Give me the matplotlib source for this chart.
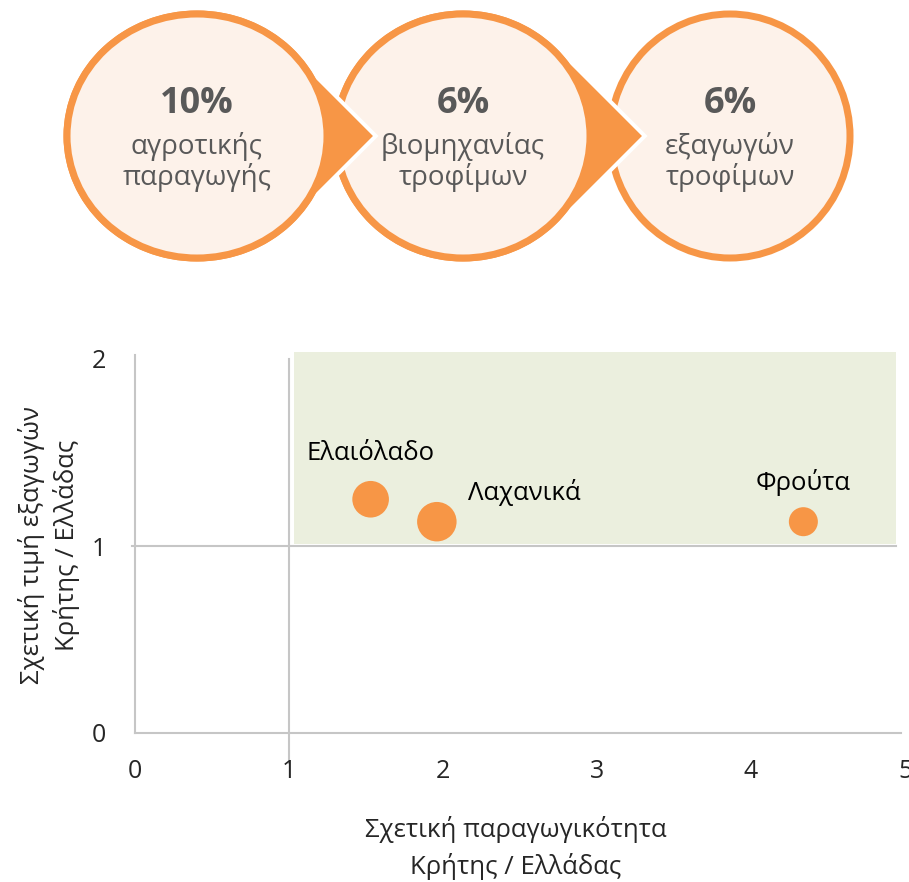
import numpy as np
import matplotlib
matplotlib.use("Agg")
import matplotlib.pyplot as plt
from matplotlib.patches import Ellipse, Polygon, Rectangle

plt.rcParams['font.family'] = ['Open Sans', 'DejaVu Sans']

# top: share of Crete in Greece
shares = ["10%", "6%", "6%"]
share_captions = ["αγροτικής\nπαραγωγής", "βιομηχανίας\nτροφίμων", "εξαγωγών\nτροφίμων"]

# bubble chart
products = ["Ελαιόλαδο", "Λαχανικά", "Φρούτα"]
productivity = [1.53, 1.96, 4.34]
export_price = [1.25, 1.13, 1.13]
bubble_size = [0.86, 1.0, 0.54]
x_ticks = [0, 1, 2, 3, 4, 5]
y_ticks = [0, 1, 2]
x_title = "Σχετική παραγωγικότητα\nΚρήτης / Ελλάδας"
y_title = "Σχετική τιμή εξαγωγών\nΚρήτης / Ελλάδας"

ORANGE = "#F79646"
PEACH = "#FDF2EA"
GREEN = "#EBEFDE"
GRID = "#C6C6C6"
TXT = "#595959"
W, H = 909, 882

fig = plt.figure(figsize=(W / 100, H / 100), dpi=100)

# pixel canvas for the circles
top = fig.add_axes([0, 0, 1, 1])
top.set_xlim(0, W)
top.set_ylim(H, 0)
top.axis("off")

# (cx, cy, rx, ry, arrow tip x)
circles = [(197, 136, 130, 122, 368),
           (463, 136, 127, 122, 637),
           (730, 136, 120, 122, None)]


def outline(cx, cy, rx, ry, tx):
    # ellipse with a 45 degree arrow pointing right
    d = tx - cx
    A = 1 / rx**2 + 1 / ry**2
    B = -2 * d / rx**2
    C = d**2 / rx**2 - 1
    t = (-B - np.sqrt(B**2 - 4 * A * C)) / (2 * A)
    th = np.arcsin(t / ry)
    phi = np.linspace(th, 2 * np.pi - th, 300)
    pts = np.column_stack([cx + rx * np.cos(phi), cy - ry * np.sin(phi)])
    return np.vstack([pts, [[tx, cy]]])


bw = 7 * 0.72
for i in [2, 1, 0]:
    cx, cy, rx, ry, tx = circles[i]
    if tx is not None:
        pts = outline(cx, cy, rx, ry, tx)
        top.add_patch(Polygon(pts, closed=True, fc="white", ec="white", lw=bw + 8 * 0.72, joinstyle="miter"))
        top.add_patch(Polygon(pts, closed=True, fc=ORANGE, ec=ORANGE, lw=bw, joinstyle="miter"))
    else:
        top.add_patch(Ellipse((cx, cy), 2 * rx, 2 * ry, fc="white", ec="white", lw=bw + 8 * 0.72))
    top.add_patch(Ellipse((cx, cy), 2 * rx, 2 * ry, fc=PEACH, ec=ORANGE, lw=bw))

for i, (val, cap) in enumerate(zip(shares, share_captions)):
    cx = circles[i][0]
    top.text(cx, 113, val, ha="center", va="baseline", fontsize=26, fontweight="bold", color=TXT)
    for j, line in enumerate(cap.split("\n")):
        top.text(cx, 154 + 31 * j, line, ha="center", va="baseline", fontsize=20, color=TXT)

# bubble chart
ax = fig.add_axes([135 / W, (H - 733) / H, 770 / W, 374 / H])
ax.set_xlim(0, 5)
ax.set_ylim(0, 2)
ax.patch.set_alpha(0)
for s in ax.spines.values():
    s.set_visible(False)

ax.add_patch(Rectangle((1.03, 1.01), 3.91, 1.03, fc=GREEN, ec="none", zorder=0, clip_on=False))

ax.axhline(0, xmin=0, xmax=0.995, color=GRID, lw=1.5, clip_on=False, zorder=1)
ax.axvline(0, ymin=0, ymax=1.01, color=GRID, lw=1.5, clip_on=False, zorder=1)
ax.axhline(1, xmin=-0.004, xmax=0.988, color=GRID, lw=1.5, clip_on=False, zorder=1)
ax.axvline(1, ymin=-0.08, ymax=1.0, color=GRID, lw=1.5, clip_on=False, zorder=1)

ax.scatter(productivity, export_price, s=np.array(bubble_size) * 808, color=ORANGE,
           linewidths=0, zorder=3, clip_on=False)

offsets = [(0, 46), (87, 29), (0, 39)]
for name, x, y, off in zip(products, productivity, export_price, offsets):
    ax.annotate(name, (x, y), xytext=off, textcoords="offset pixels",
                ha="center", va="center", fontsize=18.5, color="black")

ax.set_xticks(x_ticks)
ax.set_yticks(y_ticks)
ax.tick_params(length=0, labelsize=18, colors="#262626")
ax.tick_params(axis="x", pad=19)
ax.tick_params(axis="y", pad=21)

fig.text(516 / W, 1 - 848 / H, x_title, ha="center", va="center", fontsize=18.5,
         color="#262626", linespacing=1.45)
fig.text(49 / W, 1 - 545 / H, y_title, ha="center", va="center", fontsize=18.5,
         color="#262626", linespacing=1.35, rotation=90)

fig.savefig("out.png", dpi=100)
